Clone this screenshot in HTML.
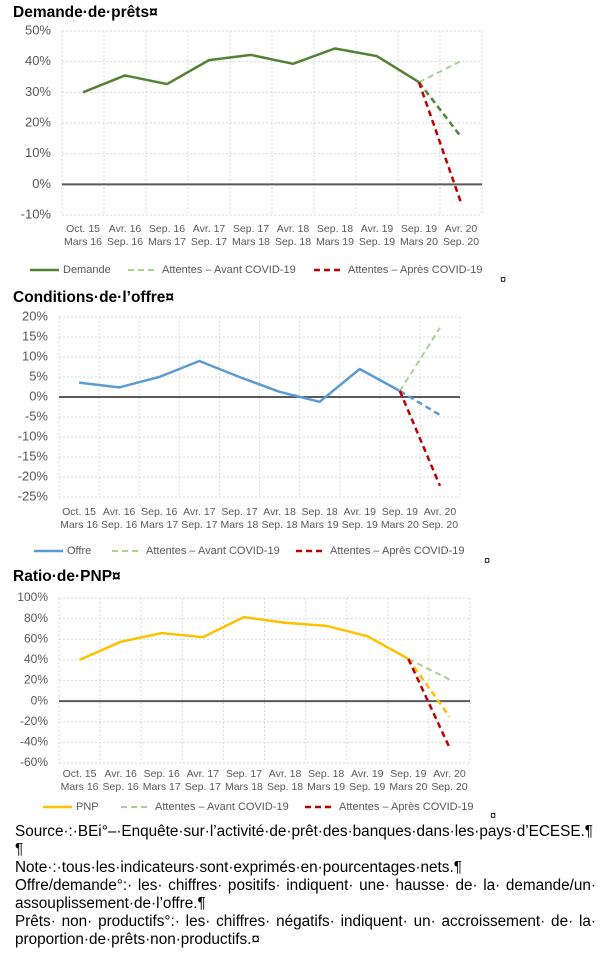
<!DOCTYPE html>
<html><head><meta charset="utf-8">
<style>
body{margin:0;background:#fff;width:600px;height:955px;overflow:hidden;position:relative;font-family:"Liberation Sans",Arial,sans-serif;}
svg{position:absolute;left:0;top:0}
.note{position:absolute;left:15px;width:581px;font-size:15.3px;line-height:18px;color:#000;white-space:nowrap}
.just{text-align:justify;text-align-last:justify;white-space:normal}
</style></head>
<body>
<svg id="svg" width="600" height="955"></svg>
<div class="note" style="top:823px">Source·:·BEi°–·Enquête·sur·l’activité·de·prêt·des·banques·dans·les·pays·d’ECESE.¶</div>
<div class="note" style="top:841px">¶</div>
<div class="note" style="top:859px">Note·:·tous·les·indicateurs·sont·exprimés·en·pourcentages·nets.¶</div>
<div class="note just" style="top:877px">Offre/demande°:· les· chiffres· positifs· indiquent· une· hausse· de· la· demande/un·</div>
<div class="note" style="top:895px">assouplissement·de·l’offre.¶</div>
<div class="note just" style="top:913px">Prêts· non· productifs°:· les· chiffres· négatifs· indiquent· un· accroissement· de· la·</div>
<div class="note" style="top:931px">proportion·de·prêts·non·productifs.¤</div>
<script>
const categories1=["Oct. 15","Avr. 16","Sep. 16","Avr. 17","Sep. 17","Avr. 18","Sep. 18","Avr. 19","Sep. 19","Avr. 20"];
const categories2=["Mars 16","Sep. 16","Mars 17","Sep. 17","Mars 18","Sep. 18","Mars 19","Sep. 19","Mars 20","Sep. 20"];
const demande=[30,35.5,32.7,40.5,42.2,39.3,44.3,41.8,33.3];
const demandeExp=15.5, demandeAvant=40.2, demandeApres=-6;
const offre=[3.6,2.4,5,9,5,1.3,-1.2,7,1.5];
const offreExp=-4.5, offreAvant=17.3, offreApres=-22.2;
const pnp=[40,57.5,66,62,81.5,76,73,63,41];
const pnpExp=-15, pnpAvant=21, pnpApres=-45;
const ticks1=[50,40,30,20,10,0,-10];
const ticks2=[20,15,10,5,0,-5,-10,-15,-20,-25];
const ticks3=[100,80,60,40,20,0,-20,-40,-60];

const svg=document.getElementById('svg');
const NS='http://www.w3.org/2000/svg';
function mk(tag,attrs,name,parent){const e=document.createElementNS(NS,tag);for(const k in attrs)e.setAttribute(k,attrs[k]);


(parent||svg).appendChild(e);return e;}
function txt(x,y,s,attrs,name,parent){const t=mk('text',Object.assign({x:x,y:y},attrs),name,parent);t.textContent=s;return t;}

function chart(cfg){
  const g=mk('g',{},cfg.name);
  const {L,R,T,B,max,min}=cfg;
  const yS=v=>T+(max-v)/(max-min)*(B-T);
  const cw=(R-L)/10;
  const xS=i=>L+cw*(i+0.5);
  txt(13,cfg.titleY,cfg.title,{'font-size':'15.5','font-weight':'bold',fill:'#000','dominant-baseline':'middle'},'chart-title',g);
  cfg.ticks.forEach(t=>{
    if(t!==0) mk('line',{x1:L,x2:R,y1:yS(t),y2:yS(t),stroke:'#d9d9d9','stroke-width':1,'stroke-dasharray':'2,2'},'gridline-y',g);
    txt(L-11,yS(t),t+'%',{'font-size':cfg.tfs,fill:'#595959','text-anchor':'end','dominant-baseline':'middle'},'y-tick-label',g);
  });
  for(let i=0;i<=10;i++) mk('line',{x1:L+cw*i,x2:L+cw*i,y1:T,y2:B,stroke:'#d9d9d9','stroke-width':1,'stroke-dasharray':'2,2'},'gridline-x',g);
  mk('line',{x1:L,x2:R,y1:yS(0),y2:yS(0),stroke:'#595959','stroke-width':2},'zero-line',g);
  categories1.forEach((c,i)=>{
    txt(xS(i),cfg.labY,c,{'font-size':'10.5',fill:'#595959','text-anchor':'middle','dominant-baseline':'middle'},'x-tick-label',g);
    txt(xS(i),cfg.labY+13,categories2[i],{'font-size':'10.5',fill:'#595959','text-anchor':'middle','dominant-baseline':'middle'},'x-tick-label',g);
  });
  const pts=cfg.series.map((v,i)=>xS(i)+','+yS(v)).join(' ');
  mk('polyline',{points:pts,fill:'none',stroke:cfg.color,'stroke-width':2.5,'stroke-linejoin':'round'},'series-line',g);
  const last=cfg.series[cfg.series.length-1];
  mk('line',{x1:xS(8),y1:yS(last),x2:xS(9),y2:yS(cfg.avant),stroke:'#a9d18e','stroke-width':2,'stroke-dasharray':'6,4'},'expectation-pre-covid',g);
  mk('line',{x1:xS(8),y1:yS(last),x2:xS(9),y2:yS(cfg.exp),stroke:cfg.color,'stroke-width':2.5,'stroke-dasharray':'6,4'},'expectation-series',g);
  mk('line',{x1:xS(8),y1:yS(last),x2:xS(9),y2:yS(cfg.apres),stroke:'#c00000','stroke-width':2.5,'stroke-dasharray':'6,4'},'expectation-post-covid',g);
  const ly=cfg.legY, lg=cfg.leg;
  mk('line',{x1:lg[0],x2:lg[0]+29,y1:ly,y2:ly,stroke:cfg.color,'stroke-width':2.5},'legend-swatch-series',g);
  txt(lg[0]+33,ly,cfg.lname,{'font-size':'11',fill:'#595959','dominant-baseline':'middle'},'legend-label-series',g);
  mk('line',{x1:lg[1],x2:lg[1]+28,y1:ly,y2:ly,stroke:'#a9d18e','stroke-width':2,'stroke-dasharray':'6,4'},'legend-swatch-pre',g);
  txt(lg[1]+34,ly,'Attentes – Avant COVID-19',{'font-size':'11',fill:'#595959','dominant-baseline':'middle'},'legend-label-pre',g);
  mk('line',{x1:lg[2],x2:lg[2]+28,y1:ly,y2:ly,stroke:'#c00000','stroke-width':2.5,'stroke-dasharray':'6,4'},'legend-swatch-post',g);
  txt(lg[2]+34,ly,'Attentes – Après COVID-19',{'font-size':'11',fill:'#595959','dominant-baseline':'middle'},'legend-label-post',g);
  txt(cfg.cur[0],cfg.cur[1],'¤',{'font-size':'11',fill:'#000','dominant-baseline':'middle'},'cell-mark',g);
}
chart({name:'chart-demande',title:'Demande·de·prêts¤',titleY:13,L:62,R:482,T:31,B:215,max:50,min:-10,ticks:ticks1,tfs:13,labY:229,legY:270,leg:[30,128,314],cur:[500,280],
  series:demande,exp:demandeExp,avant:demandeAvant,apres:demandeApres,color:'#548235',lname:'Demande'});
chart({name:'chart-offre',title:'Conditions·de·l’offre¤',titleY:298,L:59,R:460,T:317,B:497,max:20,min:-25,ticks:ticks2,tfs:13,labY:512,legY:551,leg:[34,112,296],cur:[484,561],
  series:offre,exp:offreExp,avant:offreAvant,apres:offreApres,color:'#5b9bd5',lname:'Offre'});
chart({name:'chart-pnp',title:'Ratio·de·PNP¤',titleY:577,L:59,R:470,T:598,B:763,max:100,min:-60,ticks:ticks3,tfs:12,labY:774,legY:807,leg:[43,121,305],cur:[490,816],
  series:pnp,exp:pnpExp,avant:pnpAvant,apres:pnpApres,color:'#ffc000',lname:'PNP'});
</script>
</body></html>
